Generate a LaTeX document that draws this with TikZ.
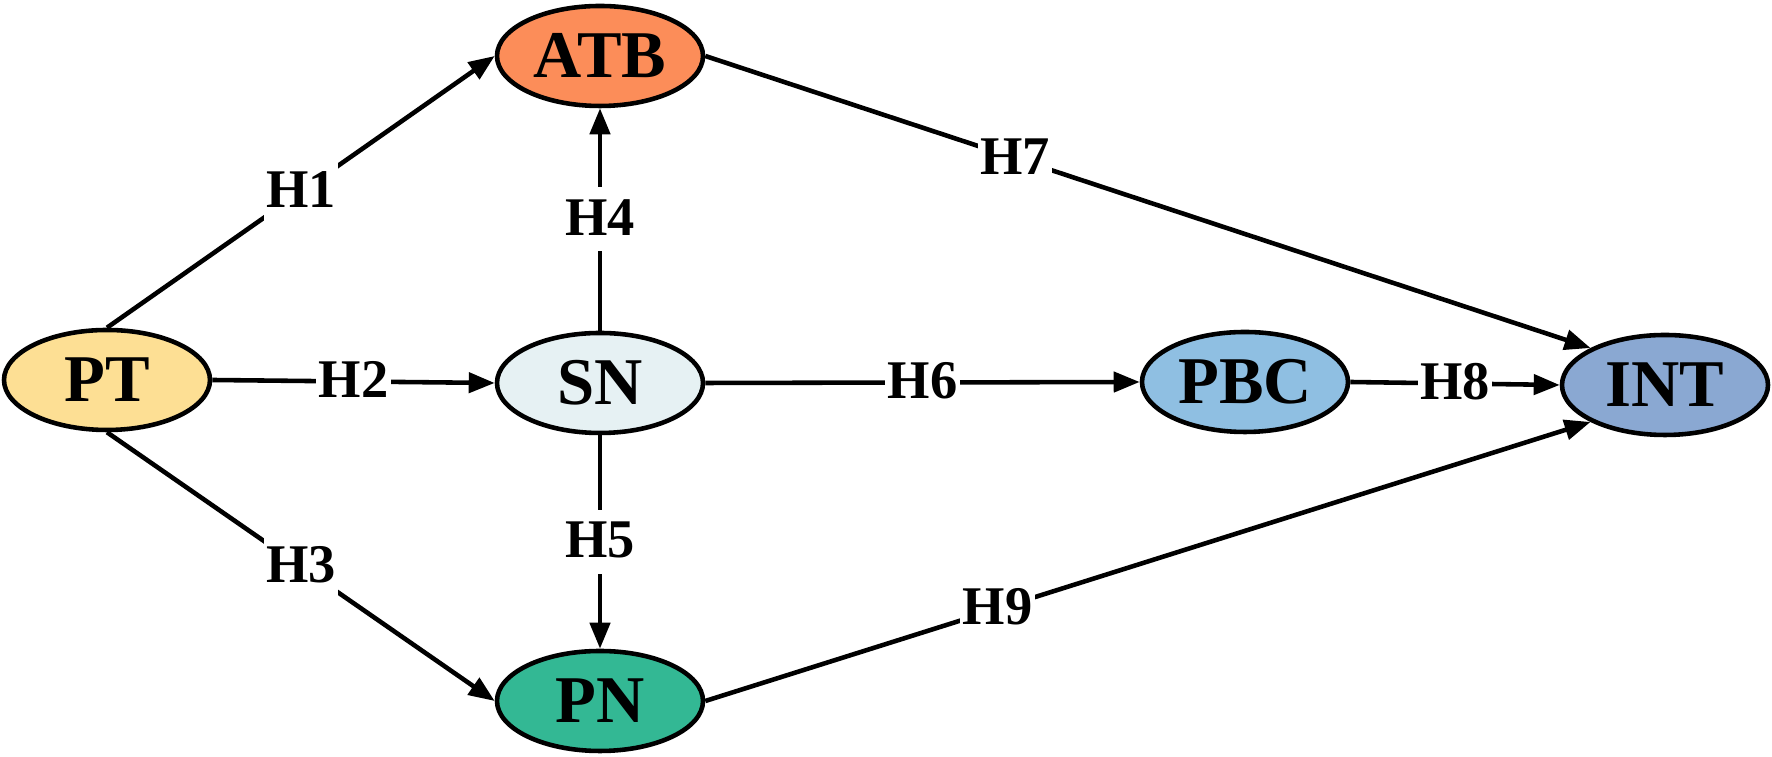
\documentclass[tikz,border=0pt]{standalone}
\usepackage{fontspec}
\setmainfont{Liberation Serif}
\usetikzlibrary{arrows.meta,shapes.geometric}

\definecolor{ptcol}{RGB}{253,223,148}
\definecolor{atbcol}{RGB}{252,141,89}
\definecolor{sncol}{RGB}{230,241,243}
\definecolor{pncol}{RGB}{51,184,148}
\definecolor{pbccol}{RGB}{143,191,226}
\definecolor{intcol}{RGB}{138,168,210}

\begin{document}
\begin{tikzpicture}[
    construct/.style={ellipse, draw, line width=1.3pt, minimum width=2.06cm,
                      minimum height=1.0cm, inner sep=0pt,
                      font=\fontsize{19}{21}\selectfont\bfseries},
    hyp/.style={fill=white, inner xsep=0.025cm, inner ysep=0.02cm,
                text height=0.46cm, text depth=0.14cm,
                font=\fontsize{15.5}{17}\selectfont\bfseries},
    hpath/.style={line width=1.3pt, -{Triangle[length=0.26cm, width=0.2cm]}}]
  \useasboundingbox (0,0) rectangle (17.72,7.57);
  \node[construct, fill=ptcol]  (PT)  at (1.07,3.77)  {PT};
  \node[construct, fill=atbcol] (ATB) at (6.00,7.01)  {ATB};
  \node[construct, fill=sncol]  (SN)  at (6.00,3.74)  {SN};
  \node[construct, fill=pncol]  (PN)  at (6.00,0.56)  {PN};
  \node[construct, fill=pbccol] (PBC) at (12.45,3.75) {PBC};
  \node[construct, fill=intcol] (INT) at (16.65,3.72) {INT};

  \draw[hpath] (PT.north) -- node[hyp] {H1} (ATB.west);
  \draw[hpath] (PT.east)  -- node[hyp] {H2} (SN.west);
  \draw[hpath] (PT.south) -- node[hyp] {H3} (PN.west);
  \draw[hpath] (SN.north) -- node[hyp] {H4} (ATB.south);
  \draw[hpath] (SN.south) -- node[hyp] {H5} (PN.north);
  \draw[hpath] (SN.east)  -- node[hyp] {H6} (PBC.west);
  \draw[hpath] (ATB.east) -- node[hyp, pos=0.35] {H7} (INT.north west);
  \draw[hpath] (PBC.east) -- node[hyp] {H8} (INT.west);
  \draw[hpath] (PN.east)  -- node[hyp, pos=0.33] {H9} (INT.south west);
\end{tikzpicture}
\end{document}
